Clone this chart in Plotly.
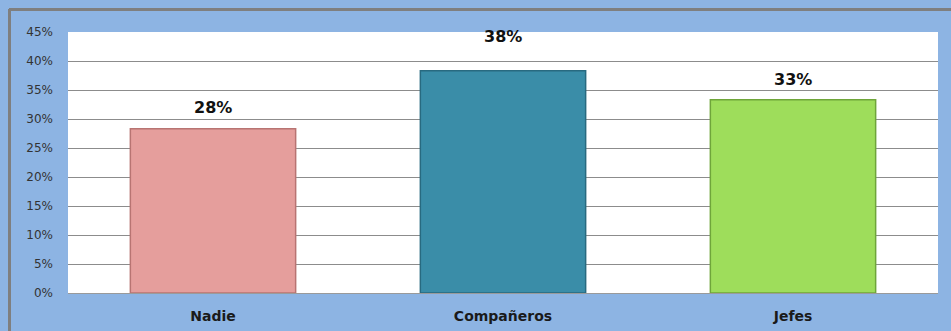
import plotly.graph_objects as go

categories = ["Nadie", "Compañeros", "Jefes"]
values = [0.2833, 0.3833, 0.3333]
value_labels = ["28%", "38%", "33%"]
bar_colors = ["#E59E9C", "#3A8DA8", "#9EDD5B"]
edge_colors = ["#B87472", "#286A80", "#6FA53A"]
label_shift = [13, 26, 12]
tick_vals = [0, 0.05, 0.10, 0.15, 0.20, 0.25, 0.30, 0.35, 0.40, 0.45]
tick_text = ["0%", "5%", "10%", "15%", "20%", "25%", "30%", "35%", "40%", "45%"]

fig = go.Figure()
fig.add_trace(go.Bar(
    x=categories, y=values,
    marker=dict(color=bar_colors, line=dict(color=edge_colors, width=1.5)),
    width=0.57, hoverinfo="skip",
))

for c, v, t, s in zip(categories, values, value_labels, label_shift):
    fig.add_annotation(x=c, y=v, text=t, showarrow=False, yanchor="middle",
                       yshift=s + 8,
                       font=dict(family="DejaVu Sans", size=16, color="#111111", weight="bold"))

W, H = 951, 331
l, r, t, b = 68, 13, 32, 38
pw, ph = W - l - r, H - t - b
def px(x):
    return (x - l) / pw
def py(y):
    return (H - b - y) / ph

fig.add_shape(type="line", xref="paper", yref="paper", x0=px(9), x1=px(960), y0=py(9.5), y1=py(9.5),
              line=dict(color="#7F7F7F", width=3), layer="above")
fig.add_shape(type="line", xref="paper", yref="paper", x0=px(9.5), x1=px(9.5), y0=py(9), y1=py(340),
              line=dict(color="#7F7F7F", width=3), layer="above")

fig.update_layout(
    width=W, height=H,
    margin=dict(l=l, r=r, t=t, b=b, autoexpand=False),
    paper_bgcolor="#8DB4E3",
    plot_bgcolor="#FFFFFF",
    showlegend=False,
    bargap=0.43,
    xaxis=dict(showgrid=False, ticks="", ticklabelstandoff=10, automargin=False,
               tickfont=dict(family="DejaVu Sans", size=14, color="#1A1A1A", weight="bold"),
               showline=True, linecolor="#9A9A9A", linewidth=1),
    yaxis=dict(range=[0, 0.45], tickvals=tick_vals, ticktext=tick_text, automargin=False,
               showgrid=True, gridcolor="#8C8C8C", gridwidth=1, zeroline=False,
               ticks="", ticklabelstandoff=14,
               tickfont=dict(family="DejaVu Sans", size=12, color="#333333")),
)

fig.write_html("out.html")
